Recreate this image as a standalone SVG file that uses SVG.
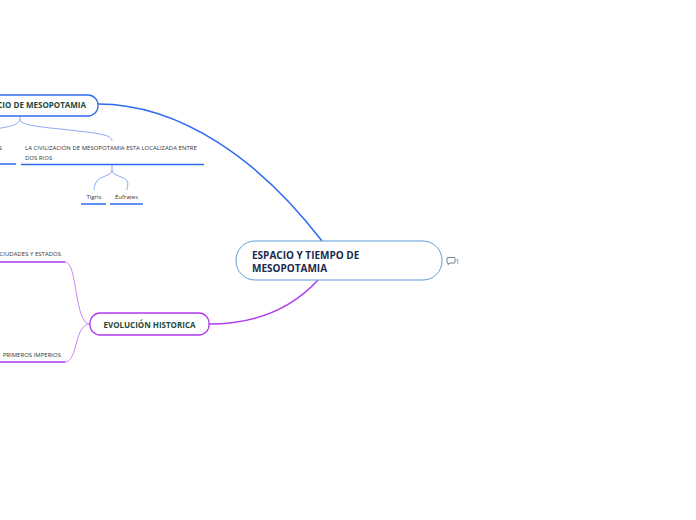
<svg xmlns="http://www.w3.org/2000/svg" width="696" height="520" viewBox="0 0 696 520">
<style>
text{font-family:"Open Sans","Noto Sans","Liberation Sans",sans-serif}
.main{font-size:10px;font-weight:bold;fill:#1b2a4e}
.sub{font-size:8px;font-weight:bold;fill:#1d4a3c}
.small{font-size:6px;fill:#333}
</style>
<rect width="696" height="520" fill="#fff"/>
<g id="connectors" fill="none">
<path d="M98,104 C180,104 260,160 322,241" stroke="#2f6bf0" stroke-width="1.5"/>
<path d="M209,324 C260,324 295,305 318,280" stroke="#b03cf0" stroke-width="1.5"/>
<path d="M20,116 V119 C20,124 30,126 60,129 C95,133 112,134 112,141" stroke="#8aa9f2" stroke-width="1"/>
<path d="M20,119 C20,125 8,127 -5,129" stroke="#8aa9f2" stroke-width="1"/>
<path d="M112,165 V170 C112,176 100,176 97,181 C95,184 94,186 94,190" stroke="#8aa9f2" stroke-width="1"/>
<path d="M112,170 C112,176 124,176 127,181 C129,184 127,186 127,190" stroke="#8aa9f2" stroke-width="1"/>
<path d="M90,324 C74,324 78,262 65,262" stroke="#c987f5" stroke-width="1"/>
<path d="M90,324 C74,324 78,362 65,362" stroke="#c987f5" stroke-width="1"/>
</g>
<g id="central">
<rect x="236" y="241" width="206" height="39" rx="19" fill="#fff" stroke="#5a9bd8" stroke-width="1"/>
<text class="main" x="252" y="259">ESPACIO Y TIEMPO DE</text>
<text class="main" x="252" y="272">MESOPOTAMIA</text>
<g id="comment">
<path d="M448,257.5 h6 a1,1 0 0 1 1,1 v3.5 a1,1 0 0 1 -1,1 h-4 l-2,1.5 v-1.5 a1,1 0 0 1 -1,-1 v-3.5 a1,1 0 0 1 1,-1z" fill="none" stroke="#5d6f88" stroke-width="0.9"/>
<text x="455.5" y="263.5" style="font-size:7px;fill:#5d6f88">1</text>
</g>
</g>
<g id="espacio">
<rect x="-40" y="95" width="138" height="21" rx="10" fill="#fff" stroke="#2f6bf0" stroke-width="1.3"/>
<text class="sub" x="86" y="108" text-anchor="end">ESPACIO DE MESOPOTAMIA</text>
</g>
<g id="left-s">
<text class="small" x="2" y="150" text-anchor="end">S</text>
<line x1="-5" y1="164" x2="16" y2="164" stroke="#2f6bf0" stroke-width="1.5"/>
</g>
<g id="civilizacion">
<text class="small" x="25" y="150">LA CIVILIZACIÓN DE MESOPOTAMIA ESTA LOCALIZADA ENTRE</text>
<text class="small" x="25" y="160">DOS RIOS</text>
<line x1="21" y1="164.5" x2="204" y2="164.5" stroke="#2f6bf0" stroke-width="1.5"/>
</g>
<g id="tigris">
<text class="small" x="94" y="199" text-anchor="middle">Tigris</text>
<line x1="81" y1="204" x2="106" y2="204" stroke="#2f6bf0" stroke-width="1.5"/>
</g>
<g id="eufrates">
<text class="small" x="126.5" y="199" text-anchor="middle">Éufrates</text>
<line x1="110" y1="204" x2="143" y2="204" stroke="#2f6bf0" stroke-width="1.5"/>
</g>
<g id="evolucion">
<rect x="90" y="313" width="119" height="22" rx="10" fill="#fff" stroke="#b03cf0" stroke-width="1.3"/>
<text class="sub" x="149.5" y="327.5" text-anchor="middle">EVOLUCIÓN HISTORICA</text>
</g>
<g id="ciudades">
<text class="small" x="61" y="256" text-anchor="end">CIUDADES Y ESTADOS</text>
<line x1="-5" y1="262" x2="65" y2="262" stroke="#a838f0" stroke-width="1.5"/>
</g>
<g id="imperios">
<text class="small" x="61" y="357" text-anchor="end">PRIMEROS IMPERIOS</text>
<line x1="-5" y1="362" x2="65" y2="362" stroke="#a838f0" stroke-width="1.5"/>
</g>
</svg>
